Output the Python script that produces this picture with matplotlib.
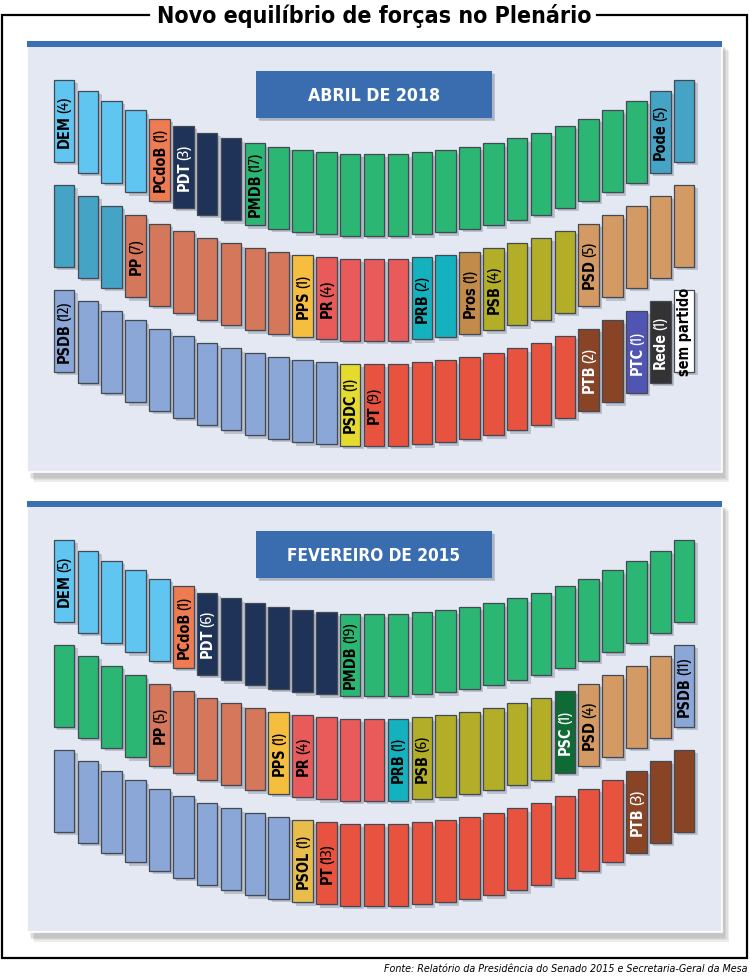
import os
import numpy as np
import matplotlib
matplotlib.use('Agg')
import matplotlib.pyplot as plt
import matplotlib.patheffects as pe
from matplotlib import font_manager as fm
from matplotlib.patches import Rectangle

# --- data -------------------------------------------------------------
parties_2018 = ['DEM', 'PCdoB', 'PDT', 'PMDB', 'Pode', 'PP', 'PPS', 'PR', 'PRB',
                'Pros', 'PSB', 'PSD', 'PSDB', 'PSDC', 'PT', 'PTB', 'PTC', 'Rede',
                'sem partido']
seats_2018 = [4, 1, 3, 17, 5, 7, 1, 4, 2, 1, 4, 5, 12, 1, 9, 2, 1, 1, 1]

parties_2015 = ['DEM', 'PCdoB', 'PDT', 'PMDB', 'PP', 'PPS', 'PR', 'PRB', 'PSB',
                'PSC', 'PSD', 'PSDB', 'PSOL', 'PT', 'PTB']
seats_2015 = [5, 1, 6, 19, 5, 1, 4, 1, 6, 1, 4, 11, 1, 13, 3]

party_colors = {
    'DEM': '#60c5f1', 'PCdoB': '#ef7b53', 'PDT': '#1f3358', 'PMDB': '#2bb673',
    'Pode': '#45a3c6', 'PP': '#d4775a', 'PPS': '#f6be3e', 'PR': '#e95a5a',
    'PRB': '#13b2be', 'Pros': '#c38b4a', 'PSB': '#b3ae27', 'PSD': '#d49a63',
    'PSDB': '#8ba7d8', 'PSDC': '#e4db2e', 'PT': '#e8533f', 'PTB': '#894426',
    'PTC': '#5055b4', 'Rede': '#333333', 'sem partido': '#ffffff',
    'PSC': '#0f6b34', 'PSOL': '#e8bd4b',
}
white_text = {'PDT', 'PTB', 'PTC', 'Rede', 'PSC'}

panel_titles = ['ABRIL DE 2018', 'FEVEREIRO DE 2015']
title = 'Novo equilíbrio de forças no Plenário'
source = 'Fonte: Relatório da Presidência do Senado 2015 e Secretaria-Geral da Mesa'


# --- fonts: the original is set in a condensed face --------------------
def weight_num(w):
    if isinstance(w, (int, float)):
        return w
    return fm.weight_dict.get(w, 400)


def narrow_font(weight, italic):
    best, best_score = None, -1e9
    for f in fm.fontManager.ttflist:
        fn = os.path.basename(f.fname).lower()
        if 'cjk' in fn or 'mono' in fn or ('serif' in fn and 'sans' not in fn):
            continue
        if not fn.endswith(('.ttf', '.otf')):
            continue
        st = str(f.stretch)
        if 'extra' in fn or 'ultra' in fn or st in ('extra-condensed', 'ultra-condensed'):
            kind = 1
        elif 'semi' in fn or st == 'semi-condensed':
            kind = 2
        elif 'cond' in fn or 'narrow' in fn or st == 'condensed':
            kind = 3
        else:
            continue
        it = f.style in ('italic', 'oblique') or 'italic' in fn
        score = kind * 10
        score -= abs(weight_num(f.weight) - weight) / 20.0
        score -= 0 if it == italic else 30
        if 'sans' not in fn and 'roboto' not in fn and 'narrow' not in fn:
            score -= 5
        if score > best_score:
            best, best_score = f.fname, score
    if best is None:
        return fm.FontProperties(family='DejaVu Sans',
                                 weight='bold' if weight >= 600 else 'normal',
                                 style='italic' if italic else 'normal')
    return fm.FontProperties(fname=best)


FP_BOLD = narrow_font(700, False)
FP_REG = narrow_font(500, False)
FP_ITAL = narrow_font(400, True)

# --- figure -----------------------------------------------------------
fig = plt.figure(figsize=(7.5, 9.79), dpi=100)
ax = fig.add_axes([0, 0, 1, 1])
ax.set_xlim(0, 750)
ax.set_ylim(979, 0)
ax.axis('off')
renderer = fig.canvas.get_renderer()


def fit_text(x, y, s, fp, px, max_w, **kw):
    t = ax.text(x, y, s, fontproperties=fp, fontsize=px * 0.72, **kw)
    w = t.get_window_extent(renderer).width
    if w > max_w:
        t.set_fontsize(px * 0.72 * max_w / w)
    return t


# title and outer frame, with a gap round the title
t = fit_text(374, 16, title, FP_BOLD, 30, 436, ha='center', va='center')
bb = t.get_window_extent(renderer)
x_l, x_r = bb.x0 - 8, bb.x1 + 6
ax.plot([x_l, 2, 2, 747, 747, x_r], [16, 16, 959, 959, 16, 16],
        color='black', lw=1.6, solid_joinstyle='miter')
fit_text(748, 969, source, FP_ITAL, 13, 366, ha='right', va='center')

N_PER_ROW = 27
X0, DX = 64, 23.85
SEAT_W, SEAT_H = 20.5, 82
SAG, ROW_GAP = 74, 105
LAB_PX = 14.5
seat_idx = np.arange(N_PER_ROW)
xs = X0 + DX * seat_idx
curve = SAG * ((seat_idx - 13) / 13.0) ** 2

shadow = [pe.SimplePatchShadow(offset=(2.5, -2.5), shadow_rgbFace='#606878', alpha=0.3),
          pe.SimplePatchShadow(offset=(1.5, -1.5), shadow_rgbFace='#606878', alpha=0.15),
          pe.Normal()]
panel_shadow = [pe.SimplePatchShadow(offset=(d, -d - 2), shadow_rgbFace='#7a7a7a',
                                     alpha=0.13) for d in (5, 4, 3, 2)] + [pe.Normal()]


def seat_label(x, yc, name, count, color):
    # bold party name, lighter seat count; reads from bottom to top
    kw = dict(rotation=90, ha='center', va='bottom', color=color, zorder=5,
              fontsize=LAB_PX * 0.72)
    t1 = ax.text(x, yc, name, fontproperties=FP_BOLD, **kw)
    if count is None:
        t1.set_va('center')
        return
    h1 = t1.get_window_extent(renderer).height
    t2 = ax.text(x, yc, '(%d)' % count, fontproperties=FP_REG, **kw)
    h2 = t2.get_window_extent(renderer).height
    gap = 2
    total = h1 + gap + h2
    # y grows downward, so the bottom of the label sits at yc + total/2
    t1.set_y(yc + total / 2)
    t2.set_y(yc + total / 2 - h1 - gap)


def draw_panel(y_off, heading, head_w, parties, seats):
    bg = Rectangle((27, 42 + y_off), 695, 431, facecolor='#e3e8f2',
                   edgecolor='white', lw=1.2, zorder=1)
    bg.set_path_effects(panel_shadow)
    ax.add_patch(bg)
    ax.add_patch(Rectangle((27, 42 + y_off), 695, 6, facecolor='#3a6fb2',
                           edgecolor='none', zorder=2))
    hb = Rectangle((256, 72 + y_off), 236, 47, facecolor='#3a6db0',
                   edgecolor='none', zorder=2)
    hb.set_path_effects(shadow)
    ax.add_patch(hb)
    fit_text(374, 96 + y_off, heading, FP_BOLD, 23, head_w, ha='center',
             va='center', color='white', zorder=3)

    # one colour per seat, filled row by row from left to right
    seat_party = np.repeat(parties, seats)
    first = np.cumsum([0] + list(seats[:-1]))
    for row in range(3):
        part = seat_party[row * N_PER_ROW:(row + 1) * N_PER_ROW]
        tops = 155 + y_off + row * ROW_GAP - curve
        bars = ax.bar(xs, SEAT_H, bottom=tops, width=SEAT_W,
                      color=[party_colors[p] for p in part],
                      edgecolor='#434a54', linewidth=0.9, zorder=4)
        for b in bars:
            b.set_path_effects(shadow)
    # label in the first seat of every party
    for p, n, k in zip(parties, seats, first):
        row, i = divmod(k, N_PER_ROW)
        top = 155 + y_off + row * ROW_GAP - curve[i]
        seat_label(xs[i] + 0.5, top + SEAT_H / 2, p,
                   None if p == 'sem partido' else n,
                   'white' if p in white_text else 'black')


draw_panel(0, panel_titles[0], 132, parties_2018, seats_2018)
draw_panel(460, panel_titles[1], 174, parties_2015, seats_2015)

fig.savefig('out.png', dpi=100, facecolor='white')
